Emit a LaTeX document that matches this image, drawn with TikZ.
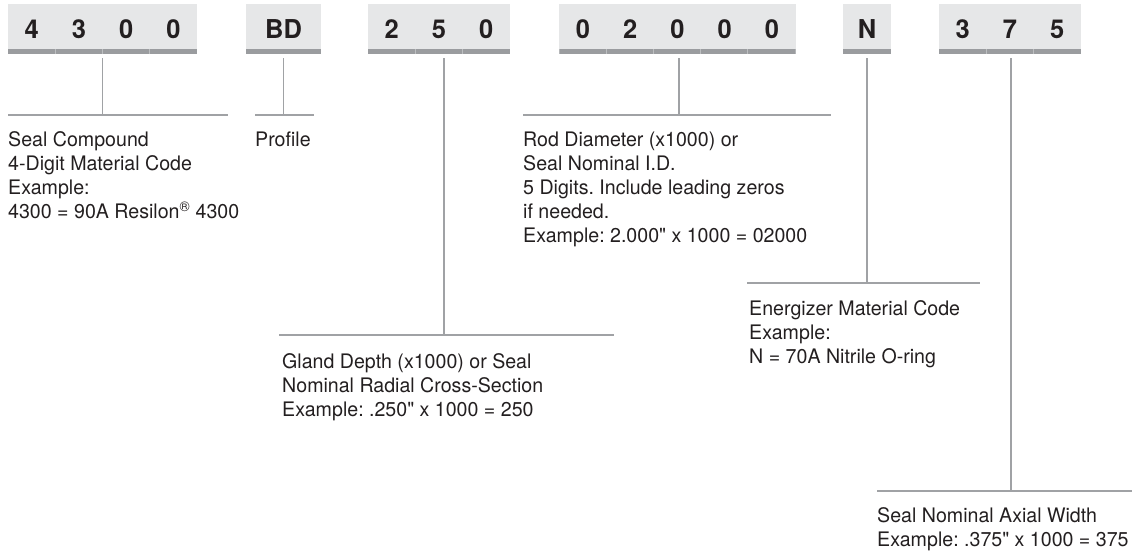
\documentclass[tikz,border=0pt]{standalone}
\usepackage{fontspec}
\setmainfont{TeX Gyre Heros}[Ligatures=TeXOff, FakeStretch=0.98]
\usepackage{tikz}
\usetikzlibrary{positioning,calc}
\definecolor{ink}     {HTML}{231F20}
\definecolor{cellgray}{HTML}{E6E7E8}
\definecolor{bargray} {HTML}{9A9C9F}
\definecolor{sepgray} {HTML}{BCBEC0}
\definecolor{leadgray}{HTML}{A0A2A5}
\newcommand{\dcell}[1]{\makebox[47.25pt]{#1}}
\frenchspacing
\tikzset{
  % --- nodes
  codebox/.style = {fill=cellgray, inner sep=0pt, minimum height=50pt, text=ink,
                    font=\fontsize{26}{30}\selectfont\bfseries,
                    path picture={\fill[bargray]
                      (path picture bounding box.south west) rectangle
                      ([yshift=5pt]path picture bounding box.south east);}},
  desc/.style    = {anchor=north west, inner sep=0pt, align=left, text=ink,
                    font=\fontsize{20}{24}\selectfont},
  % --- edges
  lead/.style    = {draw=leadgray, line width=1.5pt},
  sep/.style     = {draw=sepgray, line width=0.8pt},
}

\begin{document}
\begin{tikzpicture}[x=1pt,y=-1pt]
  \useasboundingbox (0,0) rectangle (1132,555);

  % code boxes
  \node[codebox, minimum width=189pt] (cmp) at (102.5,29) {\dcell4\dcell3\dcell0\dcell0};
  \node[codebox, minimum width=75pt]  (prf) at (283.5,29) {BD};
  \node[codebox, minimum width=142pt] (gld) at (439,29)   {\dcell2\dcell5\dcell0};
  \node[codebox, minimum width=235pt] (rod) at (677.5,29) {\dcell0\dcell2\dcell0\dcell0\dcell0};
  \node[codebox, minimum width=48pt]  (nrg) at (867,29)   {N};
  \node[codebox, minimum width=142pt] (axw) at (1010,29)  {\dcell3\dcell7\dcell5};

  % cell separators in the bars
  \foreach \k in {1,2,3}
    \draw[sep] ([xshift=\k*47.25pt]cmp.south west) -- ++(0,-5);
  \foreach \k in {1,2}
    \draw[sep] ([xshift=\k*47.3pt]gld.south west) -- ++(0,-5);
  \foreach \k in {1,2,3,4}
    \draw[sep] ([xshift=\k*47pt]rod.south west) -- ++(0,-5);
  \foreach \k in {1,2}
    \draw[sep] ([xshift=\k*47.3pt]axw.south west) -- ++(0,-5);

  % leader bars
  \coordinate (cmpL) at (8,115);   \coordinate (cmpR) at (228,115);
  \coordinate (prfL) at (255,115); \coordinate (prfR) at (314,115);
  \coordinate (gldL) at (279,335); \coordinate (gldR) at (614,335);
  \coordinate (rodL) at (523,115); \coordinate (rodR) at (831,115);
  \coordinate (nrgL) at (747,283); \coordinate (nrgR) at (980,283);
  \coordinate (axwL) at (877,491); \coordinate (axwR) at (1132,491);

  \draw[lead] (cmpL) -- (cmpR);
  \draw[lead] (prfL) -- (prfR);
  \draw[lead] (gldL) -- (gldR);
  \draw[lead] (rodL) -- (rodR);
  \draw[lead] (nrgL) -- (nrgR);
  \draw[lead] (axwL) -- (axwR);

  \draw[lead] ([yshift=-4pt]cmp.south) -- (cmp.south |- cmpL);
  \draw[lead] ([yshift=-4pt]prf.south) -- (prf.south |- prfL);
  \draw[lead] ([xshift=5pt,yshift=-4pt]gld.south) -- ($(gld.south |- gldL)+(5,0)$);
  \draw[lead] ([xshift=1.5pt,yshift=-4pt]rod.south) -- ($(rod.south |- rodL)+(1.5,0)$);
  \draw[lead] ([yshift=-4pt]nrg.south) -- (nrg.south |- nrgL);
  \draw[lead] ([xshift=1pt,yshift=-4pt]axw.south) -- ($(axw.south |- axwL)+(1,0)$);

  % descriptions
  \node[desc] (cmpT) at (8,131.6) {Seal Compound\\4-Digit Material Code\\Example:\\
    4300 = 90A Resilon\textsuperscript{\textregistered} 4300};
  \node[desc] (prfT) at (255,131.6) {Profile};
  \node[desc] (gldT) at (282,353.6) {Gland Depth (x1000) or Seal\\
    Nominal Radial Cross-Section\\Example: .250" x 1000 = 250};
  \node[desc] (rodT) at (523,131.6) {Rod Diameter (x1000) or\\Seal Nominal I.D.\\
    5 Digits. Include leading zeros\\if needed.\\Example: 2.000" x 1000 = 02000};
  \node[desc] (nrgT) at (749,300.6) {Energizer Material Code\\Example:\\
    N = 70A Nitrile O-ring};
  \node[desc] (axwT) at (877,507.6) {Seal Nominal Axial Width\\
    Example: .375" x 1000 = 375};
\end{tikzpicture}
\end{document}
